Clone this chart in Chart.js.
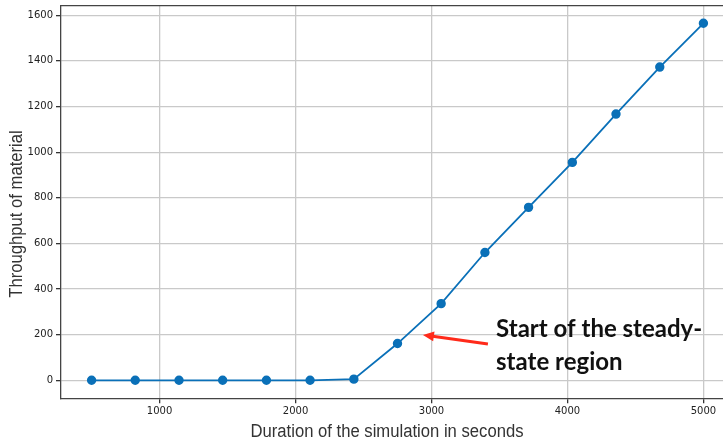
<!DOCTYPE html>
<html>
<head>
<meta charset="utf-8">
<script src="https://cdn.jsdelivr.net/npm/chart.js@4.4.0/dist/chart.umd.min.js"></script>
<style>
  html, body { margin: 0; padding: 0; background: #fff; overflow: hidden; }
</style>
</head>
<body>
<canvas id="throughput" width="734" height="442" style="width:734px;height:442px;display:block"></canvas>
<script>
var ctx = document.getElementById('throughput').getContext('2d');

// simulation durations (s) and material throughput
const duration = [500, 821, 1143, 1464, 1786, 2107, 2429, 2750, 3071, 3393, 3714, 4036, 4357, 4679, 5000];
const throughput = [0, 0, 0, 0, 0, 0, 5, 161, 336, 560, 758, 955, 1167, 1373, 1565];
const xTicks = [1000, 2000, 3000, 4000, 5000];
const yTicks = [0, 200, 400, 600, 800, 1000, 1200, 1400, 1600];

// annotation: arrow from tail to head, text beside the tail
const arrowTail = [3415, 159];
const arrowHead = [2937, 199];
const noteAt = [3475, 190];
const noteLines = ['Start of the steady-', 'state region'];

const xTitle = 'Duration of the simulation in seconds';
const yTitle = 'Throughput of material';

const extras = {
    id: 'extras',
    afterDraw: function (chart) {
        const c = chart.ctx, a = chart.chartArea;
        const xs = chart.scales.x, ys = chart.scales.y;
        c.save();
        // top frame line
        c.strokeStyle = '#444';
        c.lineWidth = 1.3;
        c.beginPath();
        c.moveTo(a.left, a.top);
        c.lineTo(a.right, a.top);
        c.stroke();

        // arrow
        const tx = xs.getPixelForValue(arrowTail[0]), ty = ys.getPixelForValue(arrowTail[1]);
        const hx = xs.getPixelForValue(arrowHead[0]), hy = ys.getPixelForValue(arrowHead[1]);
        const ang = Math.atan2(hy - ty, hx - tx);
        c.strokeStyle = '#ff2a1a';
        c.fillStyle = '#ff2a1a';
        c.lineWidth = 3;
        c.beginPath();
        c.moveTo(tx, ty);
        c.lineTo(hx - 8 * Math.cos(ang), hy - 8 * Math.sin(ang));
        c.stroke();
        c.beginPath();
        c.moveTo(hx, hy);
        c.lineTo(hx - 11 * Math.cos(ang) + 5 * Math.sin(ang), hy - 11 * Math.sin(ang) - 5 * Math.cos(ang));
        c.lineTo(hx - 11 * Math.cos(ang) - 5 * Math.sin(ang), hy - 11 * Math.sin(ang) + 5 * Math.cos(ang));
        c.closePath();
        c.fill();

        // note text
        c.fillStyle = '#111';
        c.font = 'bold 24px Lato, sans-serif';
        c.textBaseline = 'alphabetic';
        c.textAlign = 'left';
        const nx = xs.getPixelForValue(noteAt[0]), ny = ys.getPixelForValue(noteAt[1]);
        noteLines.forEach(function (t, i) { c.fillText(t, nx, ny + i * 33); });

        // axis titles, narrowed Liberation Sans
        c.fillStyle = '#333';
        c.font = '18px "Liberation Sans", Arial, sans-serif';
        c.textAlign = 'center';
        c.save();
        c.translate(387, 437);
        c.scale(0.925, 1);
        c.fillText(xTitle, 0, 0);
        c.restore();
        c.translate(22, 214);
        c.rotate(-Math.PI / 2);
        c.scale(0.925, 1);
        c.fillText(yTitle, 0, 0);
        c.restore();
    }
};

var myChart = new Chart(ctx, {
    type: 'scatter',
    data: {
        datasets: [{
            data: duration.map(function (d, i) { return { x: d, y: throughput[i] }; }),
            showLine: true,
            borderColor: '#0a70b8',
            backgroundColor: '#0a70b8',
            borderWidth: 1.8,
            pointRadius: 3.8,
            pointHoverRadius: 3.8
        }]
    },
    options: {
        responsive: false,
        animation: false,
        devicePixelRatio: 1,
        layout: { autoPadding: false, padding: { top: 5.7, left: 0, right: 0, bottom: 0 } },
        plugins: { legend: { display: false }, tooltip: { enabled: false } },
        scales: {
            x: {
                min: 275,
                max: 5225,
                afterBuildTicks: function (s) { s.ticks = xTicks.map(function (v) { return { value: v }; }); },
                afterFit: function (s) { s.height = 43.7; s.paddingLeft = 0; s.paddingRight = 0; },
                grid: { color: '#c9c9c9', lineWidth: 1.3, tickColor: '#333', tickLength: 5 },
                border: { color: '#444', width: 1.3 },
                ticks: { color: '#222', font: { family: 'DejaVu Sans', size: 10 }, padding: 2, maxRotation: 0,
                         callback: function (v) { return String(v); } }
            },
            y: {
                min: -79,
                max: 1642,
                afterBuildTicks: function (s) { s.ticks = yTicks.map(function (v) { return { value: v }; }); },
                afterFit: function (s) { s.width = 61; s.paddingTop = 0; s.paddingBottom = 0; },
                grid: { color: '#c9c9c9', lineWidth: 1.3, tickColor: '#333', tickLength: 5 },
                border: { color: '#444', width: 1.3 },
                ticks: { color: '#222', font: { family: 'DejaVu Sans', size: 10 }, padding: 3,
                         callback: function (v) { return String(v); } }
            }
        }
    },
    plugins: [extras]
});
</script>
</body>
</html>
